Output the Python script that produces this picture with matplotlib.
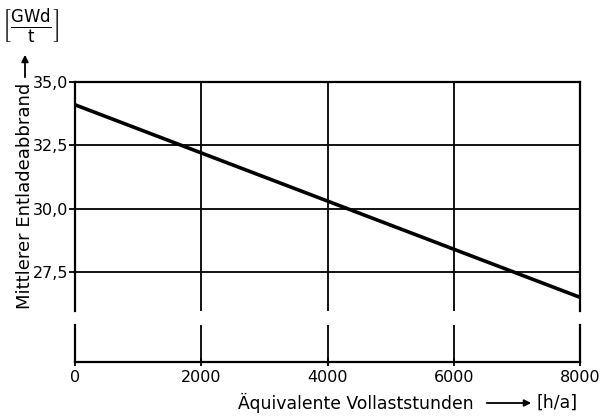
import numpy as np
import matplotlib.pyplot as plt

# Vollaststunden [h/a] and mean discharge burnup [GWd/t]
hours = [0, 8000]
burnup = [34.1, 26.5]

xticks = [0, 2000, 4000, 6000, 8000]
yticks = [27.5, 30.0, 32.5, 35.0]
ytick_labels = ['27,5', '30,0', '32,5', '35,0']

W, H = 611, 416
fig = plt.figure(figsize=(W / 100, H / 100), dpi=100)
plt.rcParams['font.family'] = 'DejaVu Sans'


def px(x0, y0, x1, y1):
    # pixel box -> figure fraction [left, bottom, width, height]
    return [x0 / W, 1 - y1 / H, (x1 - x0) / W, (y1 - y0) / H]


ax = fig.add_axes(px(75, 82, 580, 311))
ax2 = fig.add_axes(px(75, 325, 580, 362))

lw_axis = 1.6
for a in (ax, ax2):
    a.set_xlim(0, 8000)
    for s in a.spines.values():
        s.set_linewidth(lw_axis)
    for x in xticks[1:-1]:
        a.axvline(x, color='black', lw=1.3, zorder=1)

ax.set_ylim(25.96, 35.0)
ax.spines['bottom'].set_visible(False)
ax.set_xticks([])
ax.set_yticks(yticks)
ax.set_yticklabels(ytick_labels, fontsize=11.5)
ax.tick_params(axis='y', direction='out', length=4, width=1.3, pad=1)
ax.grid(axis='y', color='black', lw=1.3)
ax.plot(hours, burnup, color='black', lw=2.6, solid_capstyle='butt', zorder=3)

ax2.set_ylim(23.94, 25.4)
ax2.spines['top'].set_visible(False)
ax2.set_yticks([])
ax2.set_xticks(xticks)
ax2.set_xticklabels([str(x) for x in xticks], fontsize=11.5)
ax2.tick_params(axis='x', direction='inout', length=6, width=1.3, pad=3)

# axis labels
fig.text(25 / W, 1 - 196 / H, 'Mittlerer Entladeabbrand', rotation=90,
         ha='center', va='center', fontsize=13)
fig.text(31 / W, 1 - 27 / H, r'$\left[\frac{\mathrm{GWd}}{\mathrm{t}}\right]$',
         ha='center', va='center', fontsize=17)
fig.patches.append(plt.matplotlib.patches.FancyArrowPatch(
    (25 / W, 1 - 80 / H), (25 / W, 1 - 52 / H), transform=fig.transFigure,
    arrowstyle='-|>', mutation_scale=10, lw=1.3, color='black'))

fig.text(238 / W, 1 - 403 / H, 'Äquivalente Vollaststunden',
         ha='left', va='center', fontsize=12.4)
fig.patches.append(plt.matplotlib.patches.FancyArrowPatch(
    (484 / W, 1 - 403 / H), (534 / W, 1 - 403 / H), transform=fig.transFigure,
    arrowstyle='-|>', mutation_scale=10, lw=1.3, color='black'))
fig.text(537 / W, 1 - 403 / H, '[h/a]', ha='left', va='center', fontsize=12.4)

fig.savefig('out.png', dpi=100)
